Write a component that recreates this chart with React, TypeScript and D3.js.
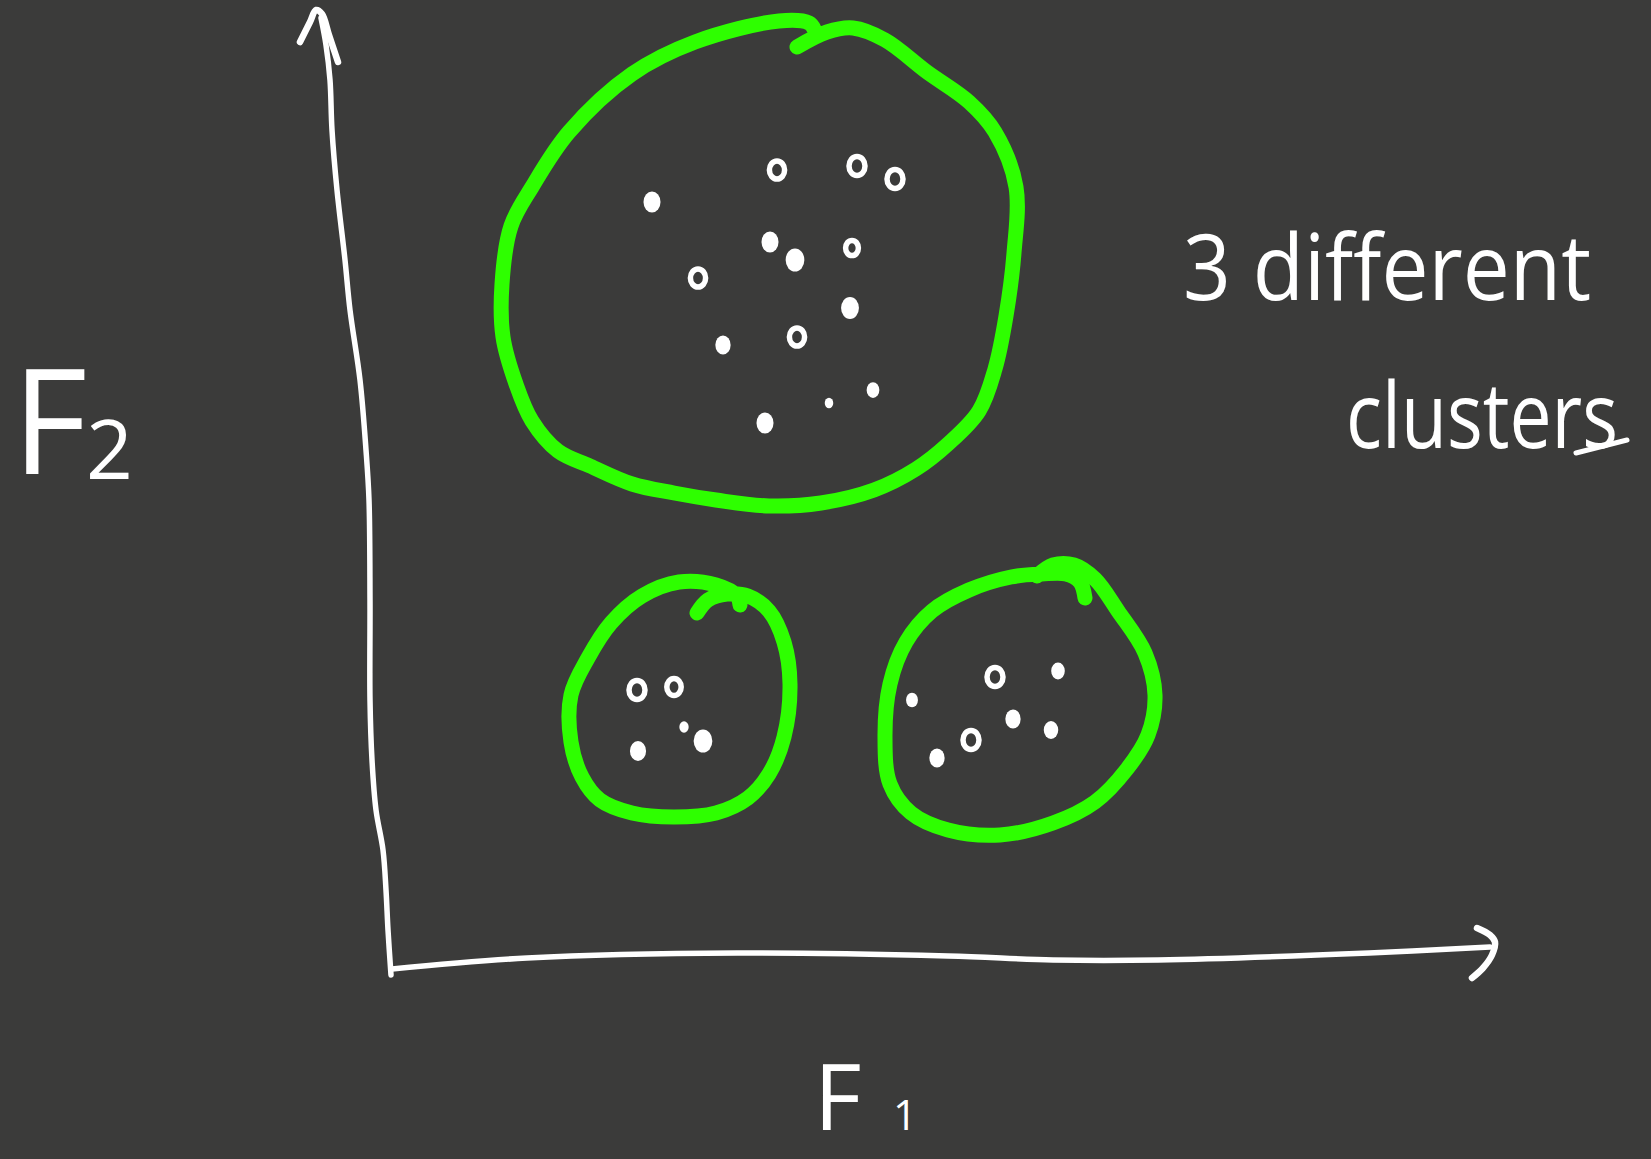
import React, { useLayoutEffect, useRef, useState } from "react";
import * as d3 from "d3";

const W = 1651;
const H = 1159;

type Pt = [number, number];
type Obs = { f1: number; f2: number; kind: "dot" | "ring"; size: number };

// Observations in feature space (F1, F2)
const clusterTop: Obs[] = [
  { f1: 26.0, f2: 76.7, kind: "dot", size: 1 },
  { f1: 38.5, f2: 79.9, kind: "ring", size: 0.95 },
  { f1: 46.5, f2: 80.3, kind: "ring", size: 1 },
  { f1: 50.3, f2: 79.0, kind: "ring", size: 1 },
  { f1: 37.8, f2: 72.7, kind: "dot", size: 1 },
  { f1: 40.3, f2: 70.9, kind: "dot", size: 1.1 },
  { f1: 46.0, f2: 72.1, kind: "ring", size: 0.8 },
  { f1: 30.6, f2: 69.1, kind: "ring", size: 0.95 },
  { f1: 45.8, f2: 66.1, kind: "dot", size: 1.05 },
  { f1: 40.5, f2: 63.2, kind: "ring", size: 0.95 },
  { f1: 33.1, f2: 62.4, kind: "dot", size: 0.9 },
  { f1: 48.1, f2: 57.9, kind: "dot", size: 0.75 },
  { f1: 43.7, f2: 56.6, kind: "dot", size: 0.5 },
  { f1: 37.3, f2: 54.6, kind: "dot", size: 1 },
];

const clusterLeft: Obs[] = [
  { f1: 24.5, f2: 27.9, kind: "ring", size: 1 },
  { f1: 28.2, f2: 28.2, kind: "ring", size: 0.9 },
  { f1: 24.6, f2: 21.8, kind: "dot", size: 0.95 },
  { f1: 29.2, f2: 24.2, kind: "dot", size: 0.55 },
  { f1: 31.1, f2: 22.8, kind: "dot", size: 1.1 },
];

const clusterRight: Obs[] = [
  { f1: 60.3, f2: 29.2, kind: "ring", size: 1 },
  { f1: 66.6, f2: 29.8, kind: "dot", size: 0.8 },
  { f1: 52.0, f2: 26.9, kind: "dot", size: 0.7 },
  { f1: 62.1, f2: 25.0, kind: "dot", size: 0.9 },
  { f1: 57.9, f2: 22.9, kind: "ring", size: 1 },
  { f1: 65.9, f2: 23.9, kind: "dot", size: 0.85 },
  { f1: 54.5, f2: 21.1, kind: "dot", size: 0.9 },
];

// Freehand outlines around each group
const outlineTop: Pt[] = [
  [40.5, 92.2], [43.5, 93.7], [46.1, 94.1], [49.3, 92.9], [53.5, 89.7], [57.7, 86.7],
  [60.3, 83.7], [62.4, 78.2], [62.2, 71.6], [61.4, 65.3], [60.3, 60.0], [58.7, 55.8],
  [55.6, 52.5], [52.4, 50.0], [48.2, 47.9], [42.9, 46.6], [37.7, 46.3], [32.4, 46.9],
  [28.2, 47.6], [24.0, 48.5], [19.8, 50.3], [16.6, 51.8], [14.0, 54.8], [12.4, 58.5],
  [11.1, 63.2], [11.0, 68.5], [11.9, 74.3], [14.0, 78.2], [17.7, 83.7], [24.0, 89.5],
  [30.3, 92.7], [38.7, 94.8], [41.7, 94.6], [42.2, 94.0],
];

const outlineLeft: Pt[] = [
  [30.5, 35.6], [31.6, 36.9], [33.5, 37.5], [35.6, 37.3], [37.7, 35.8], [39.2, 32.7],
  [39.8, 28.5], [39.2, 23.2], [37.7, 19.5], [35.6, 17.1], [32.4, 15.6], [28.2, 15.2],
  [24.0, 15.6], [20.8, 16.9], [19.0, 19.2], [17.9, 22.7], [17.9, 27.4], [19.6, 31.1],
  [21.9, 34.6], [25.0, 37.3], [28.7, 38.7], [32.4, 38.4], [34.5, 37.3], [34.8, 36.4],
];

const outlineRight: Pt[] = [
  [69.3, 37.1], [68.8, 38.7], [67.4, 39.5], [65.0, 39.5], [61.9, 39.2], [57.7, 37.9],
  [54.0, 35.8], [51.4, 32.7], [49.8, 28.5], [49.3, 23.2], [49.8, 18.5], [51.9, 15.6],
  [55.6, 13.9], [60.8, 13.4], [66.1, 14.6], [70.3, 16.7], [73.5, 20.0], [75.6, 23.4],
  [76.3, 27.4], [75.3, 31.6], [72.6, 35.8], [70.3, 39.0], [68.2, 40.4], [66.1, 40.4],
  [64.5, 39.3],
];

// Hand-drawn axes
const axisF2: Pt[] = [
  [-7.1, 95.1], [-6.6, 92.4], [-6.2, 88.9], [-6.0, 83.9], [-5.5, 77.9], [-4.7, 70.9],
  [-4.2, 65.9], [-3.2, 58.9], [-2.6, 51.9], [-2.3, 46.9], [-2.2, 36.9], [-2.2, 26.9],
  [-2.0, 20.9], [-1.6, 15.9], [-0.9, 11.9], [-0.6, 7.9], [-0.4, 3.9], [-0.1, -0.6],
];
const arrowF2: Pt[] = [[-9.2, 92.7], [-8.2, 94.7], [-7.6, 95.9], [-7.0, 95.5], [-6.3, 93.4], [-5.4, 90.7]];

const axisF1: Pt[] = [
  [0, 0], [13.5, 1.1], [34.5, 1.6], [55.6, 1.3], [66.1, 0.9], [76.6, 0.9], [97.7, 1.6], [109.8, 2.2],
];
const arrowF1: Pt[] = [[108.5, 4.1], [109.8, 3.4], [110.3, 2.7], [110.0, 1.4], [109.1, 0.1], [108.0, -0.9]];

const underline: Pt[] = [[118.4, 51.6], [123.5, 52.9]];

const x = d3.scaleLinear().domain([0, 110.3]).range([392, 1495]);
const y = d3.scaleLinear().domain([0, 95.8]).range([969, 11]);

const freehand = d3
  .line<Pt>()
  .x((d) => x(d[0]))
  .y((d) => y(d[1]))
  .curve(d3.curveCatmullRom.alpha(0.5));

const BG = "#3b3b3a";
const CHALK = "#ffffff";
const GREEN = "#2eff00";
const FONT = "'Open Sans', 'Noto Sans', sans-serif";

function Points({ data }: { data: Obs[] }) {
  return (
    <g>
      {data.map((d, i) =>
        d.kind === "ring" ? (
          <ellipse
            key={i}
            cx={x(d.f1)}
            cy={y(d.f2)}
            rx={8 * d.size}
            ry={9.5 * d.size}
            fill="none"
            stroke={CHALK}
            strokeWidth={5.5}
          />
        ) : (
          <ellipse
            key={i}
            cx={x(d.f1)}
            cy={y(d.f2)}
            rx={8.5 * d.size}
            ry={10.5 * d.size}
            fill={CHALK}
          />
        )
      )}
    </g>
  );
}

// Text squeezed horizontally to a given width, like narrow handwriting
function NarrowText({ x0, y0, width, size, children }: { x0: number; y0: number; width: number; size: number; children: string }) {
  const ref = useRef<SVGTextElement>(null);
  const [k, setK] = useState(0.85);
  useLayoutEffect(() => {
    const el = ref.current;
    if (!el) return;
    const natural = el.getComputedTextLength();
    if (natural > 0) setK(width / natural);
  }, [width, children]);
  return (
    <text ref={ref} transform={`translate(${x0},${y0}) scale(${k},1)`} fontSize={size}>
      {children}
    </text>
  );
}

export default function App() {
  return (
    <div style={{ position: "absolute", left: 0, top: 0, width: W, height: H }}>
      <svg width={W} height={H} viewBox={`0 0 ${W} ${H}`} style={{ display: "block" }}>
        <rect x={0} y={0} width={W} height={H} fill={BG} />

        <g fill="none" stroke={CHALK} strokeWidth={5.5} strokeLinecap="round" strokeLinejoin="round">
          <path d={freehand(axisF2) ?? ""} />
          <path d={freehand(arrowF2) ?? ""} strokeWidth={6.5} />
          <path d={freehand(axisF1) ?? ""} />
          <path d={freehand(arrowF1) ?? ""} strokeWidth={6.5} />
          <path d={freehand(underline) ?? ""} strokeWidth={5} />
        </g>

        <g fill="none" stroke={GREEN} strokeWidth={15} strokeLinecap="round" strokeLinejoin="round">
          <path d={freehand(outlineTop) ?? ""} />
          <path d={freehand(outlineLeft) ?? ""} />
          <path d={freehand(outlineRight) ?? ""} />
        </g>

        <Points data={clusterTop} />
        <Points data={clusterLeft} />
        <Points data={clusterRight} />

        <g fill={CHALK} fontFamily={FONT} fontWeight={400}>
          <text x={12} y={474} fontSize={146}>F</text>
          <text x={86} y={479} fontSize={82}>2</text>
          <text x={814} y={1130} fontSize={92}>F</text>
          <text x={893} y={1130} fontSize={42}>1</text>
          <NarrowText x0={1183} y0={300} width={408} size={92}>3 different</NarrowText>
          <NarrowText x0={1346} y0={448} width={272} size={92}>clusters</NarrowText>
        </g>
      </svg>
    </div>
  );
}
